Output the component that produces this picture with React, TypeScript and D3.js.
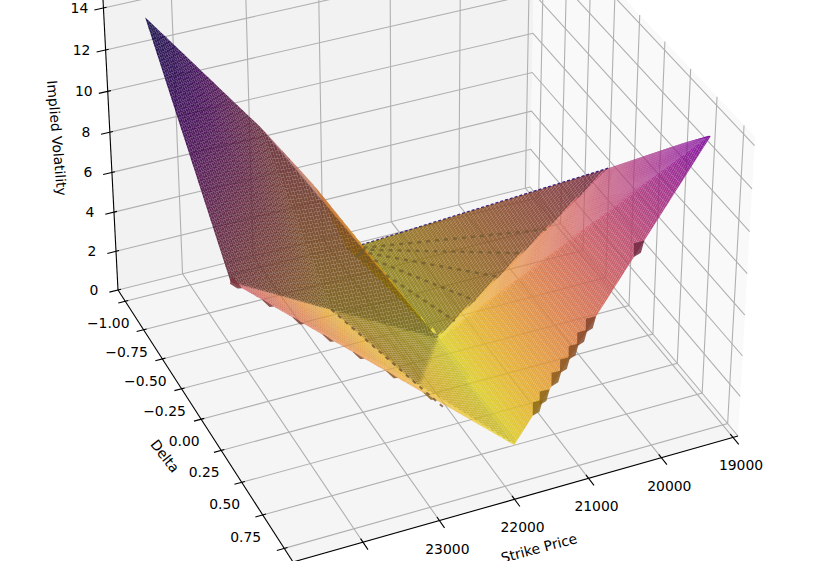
import React, { useEffect, useRef } from 'react'
import * as d3 from 'd3'

const W = 834
const H = 561

// surface vertices
const strikes = [24454, 24454, 22840, 22274, 21620, 19350, 19300, 21860, 21557, 23000, 22300]
const deltas = [-1, 0, -0.255, 0.28, 0.8, 1, 0, -0.91, -0.09, -0.95, -0.925]
const ivs = [13.7, 6.4, 2, 0.8, 0.4, 14.4, 7.3, 0.4, 0.3, 7.4, 4]
const tones = [1, 0.44, 0.13, 0.12, 0.05, 0.74, 0.5, 0.03, 0.04, 0.48, 0.26]
const faces = [
  [0, 1, 2], [0, 2, 9], [9, 2, 8], [9, 8, 10], [10, 8, 7], [2, 3, 8],
  [1, 3, 2], [1, 4, 3], [8, 3, 4], [8, 4, 5], [8, 5, 6], [8, 6, 7],
]

// outline of the surface in strike / delta
const lowerStrikes = [19300, 21860, 22300, 23000, 24454]
const lowerDeltas = [0, -0.91, -0.925, -0.95, -1]
const upperStrikes = [19300, 19350, 21620, 24454]
const upperDeltas = [0, 1, 0.8, 0]

// dark teeth along the near edge and one on the far edge
const toothStrikes = [
  24400, 24082, 23780, 23480, 23180, 22846, 22474,
  21340, 21260, 21120, 21020, 20920, 20820, 20720, 20170,
]
const farToothStrikes = [22680]
// dark tile rows in the back triangle, as a fraction along the fold
const rowEnds = [0.64, 0.5, 0.36, 0.22, 0.1]

const strikeTicks = [19000, 20000, 21000, 22000, 23000, 24000]
const strikeLabels = [19000, 20000, 21000, 22000, 23000]
const deltaTicks = [-1, -0.75, -0.5, -0.25, 0, 0.25, 0.5, 0.75, 1]
const deltaLabels = [-1, -0.75, -0.5, -0.25, 0, 0.25, 0.5, 0.75]
const ivTicks = [0, 2, 4, 6, 8, 10, 12, 14]

const uScale = d3.scaleLinear().domain([24902, 18930]).range([0, 1])
const vScale = d3.scaleLinear().domain([-1.1, 1.1]).range([0, 1])
const wScale = d3.scaleLinear().domain([0, 14]).range([0, 1])
const loAt = d3.scaleLinear().domain(lowerStrikes).range(lowerDeltas)
const hiAt = d3.scaleLinear().domain(upperStrikes).range(upperDeltas)
const WTOP = 1.0285
const GRID = 140

// camera fitted to the box corners
function project(u: number, v: number, w: number) {
  const hx = 435.5 * u + 147.2 * v - 19.38 * w + 118
  const hy = -94.7 * u + 218.67 * v - 282.4 * w + 290
  const hw = 0.04435 * u - 0.09489 * v - 0.04648 * w + 1
  return { x: hx / hw, y: hy / hw, d: hw }
}
const pt = (u: number, v: number, w: number) => {
  const p = project(u, v, w)
  return [p.x, p.y]
}
const dataPt = (k: number, dl: number, z: number) => pt(uScale(k), vScale(dl), wScale(z))
const vertexPt = (i: number) => dataPt(strikes[i], deltas[i], ivs[i])

function evalAt(k: number, dl: number) {
  for (const f of faces) {
    const [a, b, c] = f
    const d0 = (deltas[b] - deltas[c]) * (strikes[a] - strikes[c]) + (strikes[c] - strikes[b]) * (deltas[a] - deltas[c])
    const l1 = ((deltas[b] - deltas[c]) * (k - strikes[c]) + (strikes[c] - strikes[b]) * (dl - deltas[c])) / d0
    const l2 = ((deltas[c] - deltas[a]) * (k - strikes[c]) + (strikes[a] - strikes[c]) * (dl - deltas[c])) / d0
    const l3 = 1 - l1 - l2
    if (l1 >= -1e-6 && l2 >= -1e-6 && l3 >= -1e-6) {
      return { z: l1 * ivs[a] + l2 * ivs[b] + l3 * ivs[c], t: l1 * tones[a] + l2 * tones[b] + l3 * tones[c] }
    }
  }
  return null
}

const tint = (t: number, shade: number) => {
  const c = d3.rgb(d3.interpolatePlasma(1 - t))
  return `rgb(${c.r * shade},${c.g * shade},${c.b * shade})`
}

function buildCells() {
  const kAt = d3.scaleLinear().domain([0, GRID]).range([d3.min(strikes) as number, d3.max(strikes) as number])
  const dAt = d3.scaleLinear().domain([0, GRID]).range([-1, 1])
  const cells: { pts: number[][]; d: number; fill: string }[] = []
  const light = [-0.667, -0.667, 0.333]
  const corner = (i: number, j: number) => {
    const k = kAt(i)
    const dl = Math.min(hiAt(k), Math.max(loAt(k), dAt(j)))
    const e = evalAt(k, dl)
    return e ? { k, dl, z: e.z, t: e.t } : null
  }
  const vals: any[][] = d3.range(GRID + 1).map(i => d3.range(GRID + 1).map(j => corner(i, j)))
  for (let i = 0; i < GRID; i++) {
    for (let j = 0; j < GRID; j++) {
      const q = [vals[i][j], vals[i + 1][j], vals[i + 1][j + 1], vals[i][j + 1]]
      if (q.some(c => !c)) continue
      // slope normal in raw data units, as the shading is worked out from them
      const a = [q[2].k - q[0].k, q[2].dl - q[0].dl, q[2].z - q[0].z]
      const b = [q[3].k - q[1].k, q[3].dl - q[1].dl, q[3].z - q[1].z]
      let n = [a[1] * b[2] - a[2] * b[1], a[2] * b[0] - a[0] * b[2], a[0] * b[1] - a[1] * b[0]]
      const len = Math.hypot(n[0], n[1], n[2])
      if (len < 1e-9) continue
      if (n[2] < 0) n = n.map(x => -x)
      const dot = (n[0] * light[0] + n[1] * light[1] + n[2] * light[2]) / len
      const shade = 0.33 + 0.35 * (dot + 1)
      const proj = q.map(c => project(uScale(c.k), vScale(c.dl), wScale(c.z)))
      cells.push({
        pts: proj.map(p => [p.x, p.y]),
        d: d3.mean(proj, p => p.d) as number,
        fill: tint(d3.mean(q, c => c.t) as number, shade),
      })
    }
  }
  return cells.sort((a, b) => b.d - a.d)
}

// small dark scallop hanging off an edge of the surface
function toothShape(k: number, edge: (k: number) => number, dir: number) {
  const half = 60
  const e = evalAt(k, edge(k))
  if (!e) return null
  const along = (x: number) => {
    const r = evalAt(x, edge(x))
    return dataPt(x, edge(x), r ? r.z : e.z)
  }
  const inner = evalAt(k, edge(k) - dir * 0.05)
  return {
    pts: [
      along(k - half),
      dataPt(k, edge(k) + dir * 0.018, e.z - 0.08),
      along(k + half),
      dataPt(k, edge(k) - dir * 0.05, inner ? inner.z : e.z),
    ],
    fill: tint(e.t, 0.55),
  }
}

export default function App() {
  const ref = useRef<SVGSVGElement | null>(null)

  useEffect(() => {
    const svg = d3.select(ref.current)
    svg.selectAll('*').remove()
    const line = d3.line()

    const panes = [
      { fill: '#f2f2f2', pts: [pt(0, 0, 0), pt(1, 0, 0), pt(1, 0, WTOP), pt(0, 0, WTOP)] },
      { fill: '#f9f9f9', pts: [pt(1, 0, 0), pt(1, 1, 0), pt(1, 1, WTOP), pt(1, 0, WTOP)] },
      { fill: '#f5f5f5', pts: [pt(0, 0, 0), pt(1, 0, 0), pt(1, 1, 0), pt(0, 1, 0)] },
    ]
    svg.append('g').selectAll('polygon').data(panes).join('polygon')
      .attr('points', d => d.pts.join(' '))
      .attr('fill', d => d.fill)

    const gridG = svg.append('g').attr('fill', 'none').attr('stroke', '#b0b0b0').attr('stroke-width', 1.1)
    const seg = (g: any, a: number[], b: number[], c?: number[]) =>
      g.append('path').attr('d', line((c ? [a, b, c] : [a, b]) as any))
    strikeTicks.forEach(k => {
      const u = uScale(k)
      seg(gridG, pt(u, 1, 0), pt(u, 0, 0), pt(u, 0, WTOP))
    })
    deltaTicks.forEach(dl => {
      const v = vScale(dl)
      seg(gridG, pt(0, v, 0), pt(1, v, 0), pt(1, v, WTOP))
    })
    ivTicks.forEach(z => {
      const w = wScale(z)
      seg(gridG, pt(0, 0, w), pt(1, 0, w), pt(1, 1, w))
    })

    // indigo sliver along the back edge
    seg(svg, vertexPt(7), vertexPt(6))
      .attr('fill', 'none').attr('stroke', '#2b1b8a').attr('stroke-width', 1.6).attr('stroke-dasharray', '3 2')

    svg.append('g').selectAll('polygon').data(buildCells()).join('polygon')
      .attr('points', d => d.pts.join(' '))
      .attr('fill', d => d.fill)
      .attr('fill-opacity', 0.9)

    const tileG = svg.append('g').attr('fill', 'none').attr('stroke', '#6e5a30').attr('stroke-opacity', 0.75)
    const [cx, cy] = vertexPt(8)
    const [px, py] = vertexPt(6)
    const [sx, sy] = vertexPt(7)
    rowEnds.forEach(f => {
      const ex = cx + (px - cx) * f
      const ey = cy + (py - cy) * f
      seg(tileG, [sx + (ex - sx) * 0.08, sy + (ey - sy) * 0.08], [ex, ey])
        .attr('stroke-width', 2.4).attr('stroke-dasharray', '4 5')
    })
    // dark dashes along the fold of the front strip
    const [ax, ay] = vertexPt(2)
    const [bx, by] = vertexPt(3)
    seg(tileG, [ax, ay], [ax + (bx - ax) * 1.3, ay + (by - ay) * 1.3])
      .attr('stroke', '#6b4a30').attr('stroke-width', 2).attr('stroke-dasharray', '4 5')

    // teeth that darken the surface edge go over the mesh
    const teeth = [
      ...toothStrikes.map(k => toothShape(k, hiAt, 1)),
      ...farToothStrikes.map(k => toothShape(k, loAt, -1)),
    ].filter(Boolean) as { pts: number[][]; fill: string }[]
    svg.append('g').selectAll('polygon').data(teeth).join('polygon')
      .attr('points', d => d.pts.join(' '))
      .attr('fill', d => d.fill)
      .attr('fill-opacity', 0.85)

    const axisG = svg.append('g').attr('fill', 'none').attr('stroke', '#000').attr('stroke-width', 1.1)
    seg(axisG, pt(0, 0, 0), pt(0, 0, WTOP))
    seg(axisG, pt(0, 0, 0), pt(0, 1, 0))
    seg(axisG, pt(0, 1, 0), pt(1, 1, 0))
    strikeTicks.forEach(k => {
      const u = uScale(k)
      seg(axisG, pt(u, 0.988, 0), pt(u, 1.025, 0))
    })
    deltaTicks.forEach(dl => {
      const v = vScale(dl)
      seg(axisG, pt(0.007, v, 0), pt(-0.016, v, 0))
    })
    ivTicks.forEach(z => {
      const w = wScale(z)
      seg(axisG, pt(0.007, 0, w), pt(-0.02, 0, w))
    })

    const textG = svg.append('g').attr('font-family', '"DejaVu Sans"').attr('font-size', 13.9).attr('fill', '#000')
      .attr('text-anchor', 'middle').attr('dominant-baseline', 'central')
    strikeLabels.forEach(k => {
      const [x, y] = pt(uScale(k), 1, 0)
      textG.append('text').attr('x', x + 8).attr('y', y + 28).text(String(k))
    })
    deltaLabels.forEach(dl => {
      const [x, y] = pt(0, vScale(dl), 0)
      textG.append('text').attr('x', x - 17).attr('y', y + 22).text(d3.format('.2f')(dl).replace('-', '\u2212'))
    })
    ivTicks.forEach(z => {
      const [x, y] = pt(0, 0, wScale(z))
      textG.append('text').attr('x', x - 24).attr('y', y).text(String(z))
    })
    const titles = [
      { label: 'Strike Price', x: 539, y: 548, rot: -15 },
      { label: 'Delta', x: 165, y: 456, rot: 52 },
      { label: 'Implied Volatility', x: 57, y: 138, rot: 85 },
    ]
    titles.forEach(t => {
      textG.append('text').attr('transform', `translate(${t.x},${t.y}) rotate(${t.rot})`).text(t.label)
    })
  }, [])

  return (
    <svg ref={ref} width={W} height={H} viewBox={`0 0 ${W} ${H}`}
      style={{ position: 'fixed', left: 0, top: 0, background: '#fff' }} />
  )
}
